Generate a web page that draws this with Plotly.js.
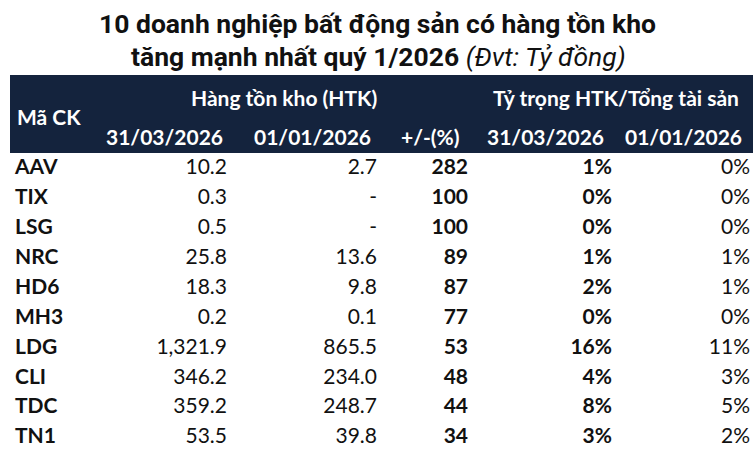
<!DOCTYPE html>
<html><head><meta charset="utf-8">
<script src="https://cdn.plot.ly/plotly-3.0.1.min.js"></script>
<style>html,body{margin:0;padding:0;background:#fff}#chart{width:753px;height:454px}</style>
</head><body><div id="chart"></div>
<script>
const codes = ["AAV","TIX","LSG","NRC","HD6","MH3","LDG","CLI","TDC","TN1"];
const htkQ1 = [10.2, 0.3, 0.5, 25.8, 18.3, 0.2, 1321.9, 346.2, 359.2, 53.5];
const htkStart = [2.7, null, null, 13.6, 9.8, 0.1, 865.5, 234.0, 248.7, 39.8];
const changePct = [282, 100, 100, 89, 87, 77, 53, 48, 44, 34];
const ratioQ1 = [1, 0, 0, 1, 2, 0, 16, 4, 8, 3];
const ratioStart = [0, 0, 0, 1, 1, 0, 11, 3, 5, 2];
const headerLabels = ["31/03/2026", "01/01/2026", "+/-(%)", "31/03/2026", "01/01/2026"];
const groupLabels = ["Mã CK", "Hàng tồn kho (HTK)", "Tỷ trọng HTK/Tổng tài sản"];
const titleMain = ["10 doanh nghiệp bất động sản có hàng tồn kho", "tăng mạnh nhất quý 1/2026"];
const titleUnit = "(Đvt: Tỷ đồng)";

const W = 753, H = 454;
const fmt1 = v => v === null ? "-" : v.toLocaleString("en-US", {minimumFractionDigits: 1, maximumFractionDigits: 1});
const bold = s => "<b>" + s + "</b>";

const navy = "#14233d";
const FONT = "Lato";
// column text anchors (pixels): first is left edge, others right edges
const colX = [15, 227, 377, 468, 612, 750];
const headerCenters = [164, 312, 430, 545, 683];
const firstRowY = 169, rowStep = 29.9;

const columns = [
  {text: codes.map(bold), pos: "middle right"},
  {text: htkQ1.map(fmt1), pos: "middle left"},
  {text: htkStart.map(fmt1), pos: "middle left"},
  {text: changePct.map(v => bold(String(v))), pos: "middle left"},
  {text: ratioQ1.map(v => bold(v + "%")), pos: "middle left"},
  {text: ratioStart.map(v => v + "%"), pos: "middle left"}
];

const traces = columns.map((c, j) => ({
  type: "scatter", mode: "text",
  x: codes.map(() => colX[j]), y: codes,
  text: c.text, textposition: c.pos,
  textfont: {family: FONT, size: 21, color: "#111111"},
  hoverinfo: "skip", showlegend: false, cliponaxis: false
}));

const yTop = -firstRowY / rowStep, yBot = (H - firstRowY) / rowStep;

const px = (x, y) => ({x: x / W, y: 1 - y / H});
const hdrFont = {family: FONT, size: 21, color: "#ffffff"};
const annotations = [];
annotations.push(Object.assign({text: bold(groupLabels[0]), xanchor: "left", font: hdrFont}, px(15, 116)));
annotations.push(Object.assign({text: bold(groupLabels[1]), xanchor: "center", font: hdrFont}, px(284, 97)));
annotations.push(Object.assign({text: bold(groupLabels[2]), xanchor: "center", font: hdrFont}, px(616, 97)));
headerLabels.forEach((h, i) => annotations.push(Object.assign({text: bold(h), xanchor: "center", font: hdrFont}, px(headerCenters[i], 136))));
const tFont = {family: "Roboto", size: 26.5, color: "#111111"};
annotations.push(Object.assign({text: bold(titleMain[0]), xanchor: "center", font: tFont}, px(377, 24)));
annotations.push(Object.assign({text: bold(titleMain[1]) + " <i>" + titleUnit + "</i>", xanchor: "center", font: tFont}, px(378, 57)));
annotations.forEach(a => { a.xref = "paper"; a.yref = "paper"; a.showarrow = false; a.yanchor = "middle"; });

const layout = {
  width: W, height: H,
  margin: {l: 0, r: 0, t: 0, b: 0},
  paper_bgcolor: "#ffffff", plot_bgcolor: "#ffffff",
  xaxis: {range: [0, W], visible: false, fixedrange: true},
  yaxis: {type: "category", categoryarray: codes, categoryorder: "array", range: [yBot, yTop], visible: false, fixedrange: true},
  shapes: [{type: "rect", xref: "paper", yref: "paper", x0: 10 / W, x1: 1, y0: 1 - 153 / H, y1: 1 - 75 / H, fillcolor: navy, line: {width: 0}, layer: "below"}],
  annotations: annotations
};

Plotly.newPlot("chart", traces, layout, {displayModeBar: false, staticPlot: true});
</script></body></html>
